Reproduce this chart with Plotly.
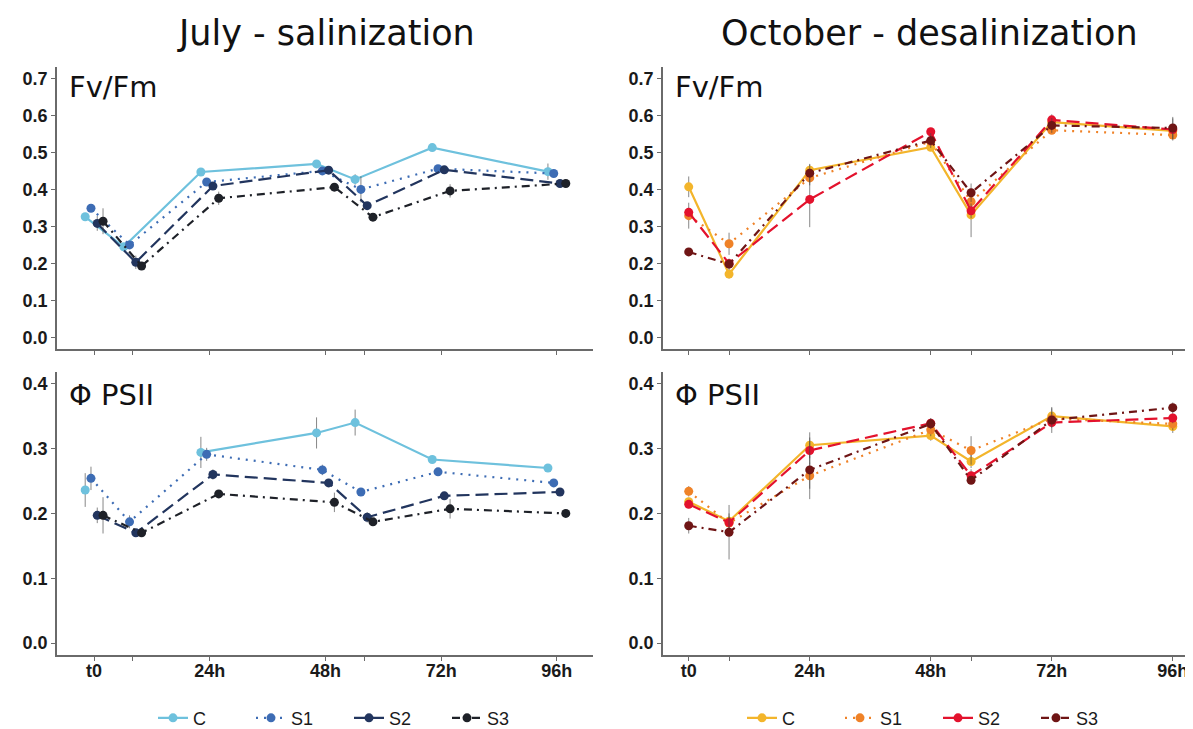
import plotly.graph_objects as go

# sampling times (hours); the two unlabeled ticks are 8h and 56h
hours = [0, 8, 24, 48, 56, 72, 96]
tick_vals = [0, 8, 24, 48, 56, 72, 96]
tick_text = ["t0", "", "24h", "48h", "", "72h", "96h"]
treatments = ["C", "S1", "S2", "S3"]

# July - salinization, Fv/Fm
jul_fvfm_C = [0.326, 0.245, 0.447, 0.469, 0.427, 0.513, 0.448]
jul_fvfm_S1 = [0.349, 0.250, 0.420, 0.450, 0.400, 0.456, 0.443]
jul_fvfm_S2 = [0.308, 0.203, 0.409, 0.452, 0.356, 0.453, 0.416]
jul_fvfm_S3 = [0.314, 0.193, 0.376, 0.406, 0.325, 0.396, 0.416]
jul_fvfm_C_se = [0.008, 0.010, 0.008, 0.008, 0.014, 0.008, 0.022]
jul_fvfm_S1_se = [0.006, 0.008, 0.006, 0.006, 0.035, 0.006, 0.006]
jul_fvfm_S2_se = [0.020, 0.018, 0.010, 0.008, 0.010, 0.008, 0.006]
jul_fvfm_S3_se = [0.035, 0.008, 0.018, 0.008, 0.008, 0.018, 0.008]

# July - salinization, PSII yield (C missing at 8h)
jul_psii_C = [0.236, None, 0.294, 0.324, 0.340, 0.283, 0.270]
jul_psii_S1 = [0.254, 0.187, 0.291, 0.267, 0.233, 0.264, 0.247]
jul_psii_S2 = [0.197, 0.170, 0.260, 0.247, 0.194, 0.227, 0.233]
jul_psii_S3 = [0.197, 0.170, 0.230, 0.217, 0.187, 0.207, 0.200]
jul_psii_C_se = [0.026, None, 0.024, 0.024, 0.020, 0.004, 0.004]
jul_psii_S1_se = [0.018, 0.010, 0.010, 0.008, 0.006, 0.006, 0.004]
jul_psii_S2_se = [0.012, 0.004, 0.008, 0.004, 0.008, 0.006, 0.004]
jul_psii_S3_se = [0.028, 0.006, 0.004, 0.015, 0.004, 0.015, 0.004]

# October - desalinization, Fv/Fm
oct_fvfm_C = [0.407, 0.171, 0.452, 0.514, 0.331, 0.582, 0.558]
oct_fvfm_S1 = [0.329, 0.253, 0.431, 0.529, 0.367, 0.560, 0.547]
oct_fvfm_S2 = [0.338, 0.200, 0.373, 0.556, 0.342, 0.588, 0.562]
oct_fvfm_S3 = [0.231, 0.198, 0.444, 0.532, 0.391, 0.573, 0.566]
oct_fvfm_C_se = [0.028, 0.012, 0.015, 0.008, 0.060, 0.012, 0.010]
oct_fvfm_S1_se = [0.035, 0.030, 0.020, 0.008, 0.020, 0.010, 0.010]
oct_fvfm_S2_se = [0.012, 0.010, 0.075, 0.008, 0.020, 0.015, 0.030]
oct_fvfm_S3_se = [0.008, 0.015, 0.025, 0.020, 0.025, 0.020, 0.030]

# October - desalinization, PSII yield
oct_psii_C = [0.218, 0.188, 0.305, 0.320, 0.280, 0.350, 0.334]
oct_psii_S1 = [0.234, 0.185, 0.258, 0.329, 0.297, 0.346, 0.338]
oct_psii_S2 = [0.214, 0.186, 0.297, 0.339, 0.258, 0.340, 0.347]
oct_psii_S3 = [0.181, 0.171, 0.267, 0.338, 0.251, 0.344, 0.363]
oct_psii_C_se = [0.006, 0.012, 0.020, 0.008, 0.010, 0.012, 0.010]
oct_psii_S1_se = [0.008, 0.010, 0.020, 0.010, 0.022, 0.010, 0.010]
oct_psii_S2_se = [0.006, 0.008, 0.020, 0.008, 0.010, 0.008, 0.008]
oct_psii_S3_se = [0.012, 0.042, 0.045, 0.008, 0.006, 0.020, 0.008]

blues = ["#6EC1DD", "#3D6CB4", "#22355E", "#1E2128"]
reds = ["#F3B52B", "#EF8228", "#E3122D", "#6F1515"]
dashes = ["solid", "2px,6px", "13px,6px", "8px,5px,2px,5px"]
# horizontal dodge (hours) used in the July panels only
dodge_jul = [-1.85, -0.65, 0.65, 1.85]
dodge_oct = [0, 0, 0, 0]


def add_panel(fig, series, errors, colors, dodge, xa, ya, legend=None):
    for i, name in enumerate(treatments):
        xs = [h + dodge[i] for h in hours]
        fig.add_trace(go.Scatter(
            x=xs, y=series[i], name=name, mode="lines+markers",
            xaxis=xa, yaxis=ya,
            line=dict(color=colors[i], width=2.2, dash=dashes[i]),
            marker=dict(color=colors[i], size=9),
            error_y=dict(type="data", array=errors[i], color="rgba(70,70,70,0.65)",
                         thickness=1, width=0),
            showlegend=legend is not None,
            legend=legend or "legend",
            connectgaps=False,
        ))


fig = go.Figure()
add_panel(fig, [jul_fvfm_C, jul_fvfm_S1, jul_fvfm_S2, jul_fvfm_S3],
          [jul_fvfm_C_se, jul_fvfm_S1_se, jul_fvfm_S2_se, jul_fvfm_S3_se],
          blues, dodge_jul, "x", "y")
add_panel(fig, [jul_psii_C, jul_psii_S1, jul_psii_S2, jul_psii_S3],
          [jul_psii_C_se, jul_psii_S1_se, jul_psii_S2_se, jul_psii_S3_se],
          blues, dodge_jul, "x2", "y2", legend="legend")
add_panel(fig, [oct_fvfm_C, oct_fvfm_S1, oct_fvfm_S2, oct_fvfm_S3],
          [oct_fvfm_C_se, oct_fvfm_S1_se, oct_fvfm_S2_se, oct_fvfm_S3_se],
          reds, dodge_oct, "x3", "y3")
add_panel(fig, [oct_psii_C, oct_psii_S1, oct_psii_S2, oct_psii_S3],
          [oct_psii_C_se, oct_psii_S1_se, oct_psii_S2_se, oct_psii_S3_se],
          reds, dodge_oct, "x4", "y4", legend="legend2")

W, H = 1193, 729
tick_font = dict(family="Liberation Sans, Arial", size=18, color="#1a1a1a", weight="bold")
axis_common = dict(showline=True, linecolor="#6a6a6a", linewidth=1.5, ticks="outside",
                   tickcolor="#6a6a6a", ticklen=4, tickwidth=1, showgrid=False,
                   zeroline=False, tickfont=tick_font)


def xaxis(dom, rng, labels, anchor):
    return dict(domain=dom, range=rng, tickvals=tick_vals,
                ticktext=tick_text if labels else [""] * len(tick_vals),
                anchor=anchor, ticklabelstandoff=-5, **axis_common)


def yaxis(dom, rng, vals, anchor):
    return dict(domain=dom, range=rng, tickvals=vals, tickformat=".1f",
                anchor=anchor, **axis_common)


left_dom = [49 / W, 585 / W]
right_dom = [655 / W, 1192 / W]
top_dom = [1 - 345 / H, 1 - 60 / H]
bot_dom = [1 - 654 / H, 1 - 368 / H]
fv_ticks = [0, 0.1, 0.2, 0.3, 0.4, 0.5, 0.6, 0.7]
ps_ticks = [0, 0.1, 0.2, 0.3, 0.4]

legend_font = dict(family="Liberation Sans, Arial", size=18, color="#1a1a1a")
fig.update_layout(
    width=W, height=H,
    margin=dict(l=0, r=0, t=0, b=0),
    plot_bgcolor="white", paper_bgcolor="white",
    xaxis=xaxis(left_dom, [-7.7, 103.5], False, "y"),
    yaxis=yaxis(top_dom, [-0.032, 0.73], fv_ticks, "x"),
    xaxis2=xaxis(left_dom, [-7.7, 103.5], True, "y2"),
    yaxis2=yaxis(bot_dom, [-0.018, 0.418], ps_ticks, "x2"),
    xaxis3=xaxis(right_dom, [-5.1, 101.4], False, "y3"),
    yaxis3=yaxis(top_dom, [-0.032, 0.73], fv_ticks, "x3"),
    xaxis4=xaxis(right_dom, [-5.1, 101.4], True, "y4"),
    yaxis4=yaxis(bot_dom, [-0.018, 0.418], ps_ticks, "x4"),
    legend=dict(orientation="h", x=145 / W, y=1 - 718 / H, xanchor="left", yanchor="middle",
                entrywidth=53, font=legend_font),
    legend2=dict(orientation="h", x=734 / W, y=1 - 718 / H, xanchor="left", yanchor="middle",
                 entrywidth=53, font=legend_font),
)

title_font = dict(family="DejaVu Sans", size=35, color="#111111")
label_font = dict(family="DejaVu Sans", size=29, color="#111111")
fig.add_annotation(text="July - salinization", x=318 / W, y=1 - 25 / H, xref="paper", yref="paper",
                   showarrow=False, font=title_font, xanchor="center", yanchor="middle")
fig.add_annotation(text="October - desalinization", x=921 / W, y=1 - 25 / H, xref="paper", yref="paper",
                   showarrow=False, font=title_font, xanchor="center", yanchor="middle")
for px_x, px_y, txt in [(59, 80, "Fv/Fm"), (59, 391, "Φ PSII"), (665, 80, "Fv/Fm"), (665, 391, "Φ PSII")]:
    fig.add_annotation(text=txt, x=px_x / W, y=1 - px_y / H, xref="paper", yref="paper",
                       showarrow=False, font=label_font, xanchor="left", yanchor="middle")

fig.write_html("out.html")
